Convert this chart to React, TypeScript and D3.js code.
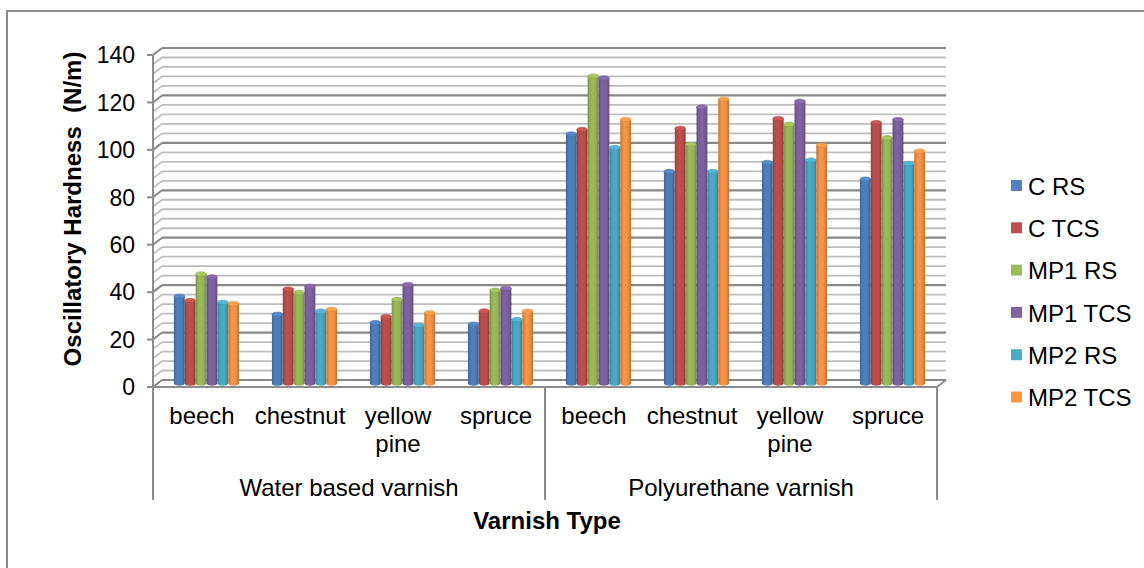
import React from "react";
import * as d3 from "d3";

const categories = ["beech", "chestnut", "yellow pine", "spruce", "beech", "chestnut", "yellow pine", "spruce"];
const groups = ["Water based varnish", "Polyurethane varnish"];
const seriesNames = ["C RS", "C TCS", "MP1 RS", "MP1 TCS", "MP2 RS", "MP2 TCS"];
const seriesColors = ["#4F81BD", "#C0504D", "#9BBB59", "#8064A2", "#4BACC6", "#F79646"];
const cRS = [36.8, 29.2, 25.7, 25.0, 105.2, 89.4, 93.2, 86.2];
const cTCS = [35.0, 39.8, 28.2, 30.6, 107.1, 107.6, 111.7, 110.0];
const mp1RS = [46.2, 38.4, 35.4, 39.3, 129.6, 100.9, 109.3, 103.6];
const mp1TCS = [44.9, 41.0, 41.7, 40.1, 128.8, 116.6, 119.0, 111.3];
const mp2RS = [34.2, 30.5, 24.5, 27.0, 99.5, 89.4, 94.2, 92.8];
const mp2TCS = [33.7, 31.2, 29.8, 30.5, 111.3, 119.8, 100.5, 98.0];
const seriesValues = [cRS, cTCS, mp1RS, mp1TCS, mp2RS, mp2TCS];
const yTicks = [0, 20, 40, 60, 80, 100, 120, 140];

const FONT = "'Liberation Sans', Arial, sans-serif";

export default function App() {
  const x0 = 153, x1 = 937;
  const dx = 9, dy = -7;
  const y = d3.scaleLinear().domain([0, 140]).range([387, 55]);
  const band = d3.scaleBand<number>().domain(d3.range(categories.length)).range([x0, x1]).paddingInner(0).paddingOuter(0);
  const bw = band.bandwidth();
  const groupW = bw * 0.665;
  const barX = d3.scaleBand<number>().domain(d3.range(seriesNames.length)).range([0, groupW]);
  const minor = d3.range(0, 141, 4);

  const darken = (c: string, k: number) => d3.color(c)!.darker(k).formatHex();
  const brighten = (c: string, k: number) => d3.color(c)!.brighter(k).formatHex();

  return (
    <svg width={1144} height={568} style={{ display: "block", position: "absolute", left: 0, top: 0 }}>
      <defs>
        {seriesColors.map((c, i) => (
          <linearGradient key={i} id={`g${i}`} x1="0" x2="1" y1="0" y2="0">
            <stop offset="0" stopColor={darken(c, 0.6)} />
            <stop offset="0.35" stopColor={c} />
            <stop offset="0.7" stopColor={darken(c, 0.1)} />
            <stop offset="1" stopColor={darken(c, 0.8)} />
          </linearGradient>
        ))}
      </defs>
      <rect x={0} y={0} width={1144} height={568} fill="#fff" />
      <rect x={7} y={11} width={1160} height={600} fill="none" stroke="#8a8a8a" strokeWidth={2} />

      {/* back wall gridlines and side wall */}
      {minor.map((v) => {
        const major = v % 20 === 0;
        const yy = y(v);
        const col = major ? "#888888" : "#bdbdbd";
        return (
          <g key={v}>
            <line x1={x0} y1={yy} x2={x0 + dx} y2={yy + dy} stroke={col} strokeWidth={major ? 2 : 1.7} />
            <line x1={x0 + dx} y1={yy + dy} x2={x1 + dx} y2={yy + dy} stroke={col} strokeWidth={major ? 2.2 : 1.8} />
          </g>
        );
      })}
      {/* floor */}
      <line x1={x0} y1={y(0)} x2={x1} y2={y(0)} stroke="#8c8c8c" strokeWidth={2} />
      <line x1={x1} y1={y(0)} x2={x1 + dx} y2={y(0) + dy} stroke="#8c8c8c" strokeWidth={2} />
      {/* value axis */}
      <line x1={x0} y1={y(140)} x2={x0} y2={y(0)} stroke="#8c8c8c" strokeWidth={2} />
      {yTicks.map((t) => (
        <g key={t}>
          <line x1={x0 - 6} y1={y(t)} x2={x0} y2={y(t)} stroke="#8c8c8c" strokeWidth={2} />
          <text x={135} y={y(t)} dy="0.36em" textAnchor="end" fontFamily={FONT} fontSize={23} fill="#000">{t}</text>
        </g>
      ))}

      {/* bars */}
      {categories.map((_, ci) => {
        const cx = band(ci)! + bw / 2 + dx / 2;
        const gx = cx - groupW / 2;
        return seriesValues.map((vals, si) => {
          const bx = gx + barX(si)!;
          const w = barX.bandwidth();
          const top = y(vals[ci]) + dy / 2;
          const bottom = y(0) + dy / 2;
          const ry = 2.2;
          return (
            <g key={`${ci}-${si}`}>
              <path d={`M${bx},${top} L${bx},${bottom} A${w / 2},${ry} 0 0 0 ${bx + w},${bottom} L${bx + w},${top} Z`} fill={`url(#g${si})`} />
              <ellipse cx={bx + w / 2} cy={top} rx={w / 2} ry={ry} fill={brighten(seriesColors[si], 0.2)} stroke={darken(seriesColors[si], 0.3)} strokeWidth={0.6} />
            </g>
          );
        });
      })}

      {/* category axis */}
      {[x0, (x0 + x1) / 2, x1].map((sx, i) => (
        <line key={i} x1={sx} y1={y(0)} x2={sx} y2={500} stroke="#8c8c8c" strokeWidth={2} />
      ))}
      {categories.map((c, i) => {
        const cx = band(i)! + bw / 2;
        const parts = c.split(" ");
        return (
          <text key={i} x={cx} y={424} textAnchor="middle" fontFamily={FONT} fontSize={24} fill="#000">
            {parts.map((p, j) => (
              <tspan key={j} x={cx} dy={j === 0 ? 0 : 28}>{p}</tspan>
            ))}
          </text>
        );
      })}
      {groups.map((g, i) => (
        <text key={g} x={x0 + (x1 - x0) * (i * 2 + 1) / 4} y={496} textAnchor="middle" fontFamily={FONT} fontSize={24} fill="#000">{g}</text>
      ))}
      <text x={547} y={529} textAnchor="middle" fontFamily={FONT} fontSize={24} fontWeight="bold" fill="#000">Varnish Type</text>
      <text transform={`translate(81,209) rotate(-90)`} textAnchor="middle" fontFamily={FONT} fontSize={24} fontWeight="bold" fill="#000" style={{ whiteSpace: "pre" }} xmlSpace="preserve">{"Oscillatory Hardness  (N/m)"}</text>

      {/* legend */}
      {seriesNames.map((s, i) => {
        const cy = 186 + i * 42.3;
        return (
          <g key={s}>
            <rect x={1011} y={cy - 6} width={11} height={11} fill={seriesColors[i]} />
            <text x={1028} y={cy} dy="0.36em" fontFamily={FONT} fontSize={24} fill="#000">{s}</text>
          </g>
        );
      })}
    </svg>
  );
}
